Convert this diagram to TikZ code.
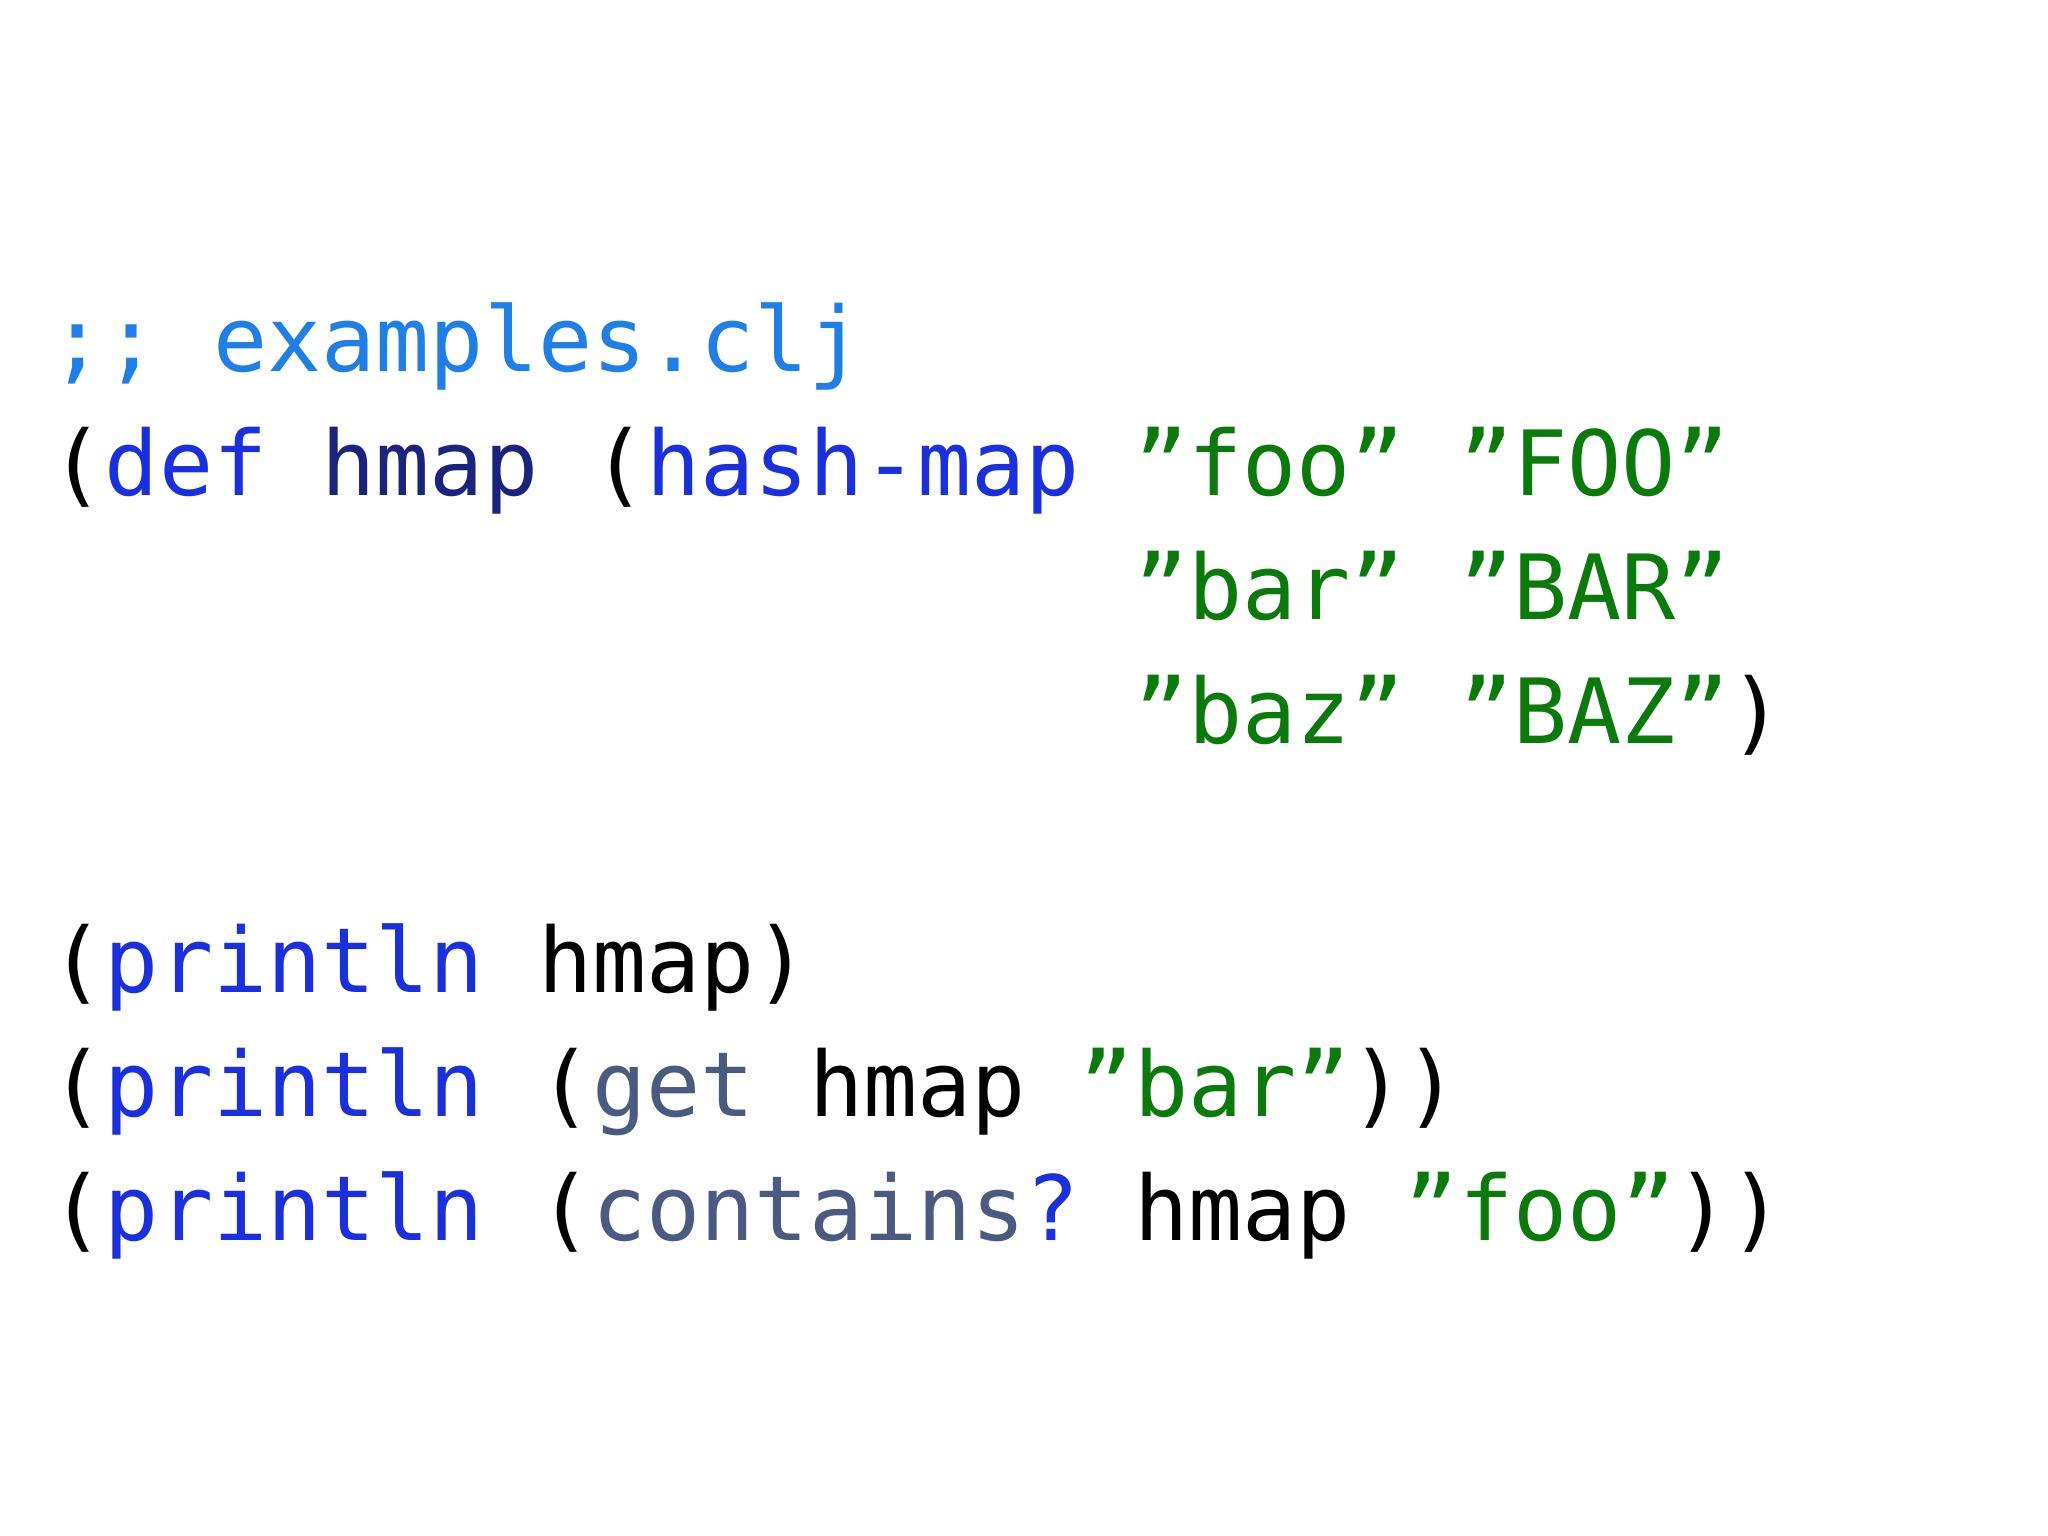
\documentclass[tikz,border=0pt]{standalone}
\usepackage{fontspec}
\setmonofont{DejaVu Sans Mono}
\definecolor{cmt}{HTML}{1E7FE8}
\definecolor{kw}{HTML}{1A2FE0}
\definecolor{nv}{HTML}{1A237E}
\definecolor{st}{HTML}{0A7A0A}
\definecolor{fn}{HTML}{4A5A80}
\tikzset{codeline/.style={anchor=base west,inner sep=0pt,font=\ttfamily\fontsize{25.6pt}{30pt}\selectfont}}
\begin{document}
\begin{tikzpicture}
\useasboundingbox[fill=white] (0,0) rectangle (20.48,15.36);
\node[codeline] (l1) at (0.5,11.64) {\textcolor{cmt}{;; examples.clj}};
\node[codeline] (l2) at (0.5,10.40) {(\textcolor{kw}{def} \textcolor{nv}{hmap} (\textcolor{kw}{hash-map} \textcolor{st}{”foo” ”FOO”}};
\node[codeline] (l3) at (0.5,9.16) {\phantom{(def hmap (hash-map }\textcolor{st}{”bar” ”BAR”}};
\node[codeline] (l4) at (0.5,7.92) {\phantom{(def hmap (hash-map }\textcolor{st}{”baz” ”BAZ”})};
\node[codeline] (l5) at (0.5,5.43) {(\textcolor{kw}{println} hmap)};
\node[codeline] (l6) at (0.5,4.19) {(\textcolor{kw}{println} (\textcolor{fn}{get} hmap \textcolor{st}{”bar”}))};
\node[codeline] (l7) at (0.5,2.95) {(\textcolor{kw}{println} (\textcolor{fn}{contains}\textcolor{kw}{?} hmap \textcolor{st}{”foo”}))};
\end{tikzpicture}
\end{document}
